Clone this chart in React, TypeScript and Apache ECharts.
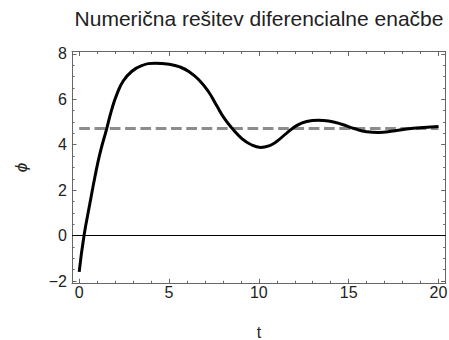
import React, { useEffect, useRef } from 'react';
import * as echarts from 'echarts';

const tValues = [0, 0.27, 0.6, 0.88, 1.16, 1.53, 1.81, 2.09, 2.45, 2.92, 3.48, 4.22, 5.05, 5.6, 6.1, 6.63, 7.19, 7.65, 8.11, 8.58, 9.04, 9.5, 10.1, 10.6, 10.99, 11.55, 12.1, 12.66, 13.3, 13.96, 14.61, 15.3, 16.0, 16.65, 17.48, 18.22, 19.15, 20.0];
const phiValues = [-1.6, 0.0, 1.43, 2.6, 3.63, 4.7, 5.54, 6.2, 6.8, 7.22, 7.48, 7.58, 7.53, 7.42, 7.22, 6.88, 6.34, 5.72, 5.12, 4.66, 4.28, 4.03, 3.88, 3.96, 4.14, 4.51, 4.84, 5.02, 5.08, 5.03, 4.9, 4.71, 4.57, 4.54, 4.6, 4.69, 4.76, 4.8];
const equilibriumT = [0, 20];
const equilibriumPhi = [4.71, 4.71];

const xMajorTicks = [0, 5, 10, 15, 20];
const xMinorTicks = [1, 2, 3, 4, 6, 7, 8, 9, 11, 12, 13, 14, 16, 17, 18, 19];
const yMajorTicks = [-2, 0, 2, 4, 6, 8];
const yMinorTicks = [-1.5, -1, -0.5, 0.5, 1, 1.5, 2.5, 3, 3.5, 4.5, 5, 5.5, 6.5, 7, 7.5];

const titleText = 'Numerična rešitev diferencialne enačbe';
const xName = 't';
const yName = 'ϕ';

const FONT = 'Liberation Sans, Arial, sans-serif';
const FRAME = '#666';
const TEXT = '#222';

const fmt = (v: number) => (v < 0 ? '\u2212' + Math.abs(v) : String(v));

export default function App() {
  const ref = useRef<HTMLDivElement>(null);
  useEffect(() => {
    const chart = echarts.init(ref.current!, null, { renderer: 'svg' });
    const xRange = { min: -0.4, max: 20.4 };
    const yRange = { min: -2.1, max: 8.1 };
    const frameLine = { show: true, onZero: false, lineStyle: { color: FRAME, width: 1 } };
    const noLine = { show: false, onZero: false };
    const noLabel = { show: false };
    const mkX = (position: string, ticks: number[], len: number, main: boolean, labels: boolean) => ({
      type: 'value',
      position,
      ...xRange,
      axisLine: main ? frameLine : noLine,
      axisTick: { show: true, inside: true, length: len, customValues: ticks, lineStyle: { color: FRAME, width: 1 } },
      axisLabel: labels
        ? { show: true, customValues: ticks, formatter: fmt, fontSize: 16, color: TEXT, fontFamily: FONT, margin: 1 }
        : noLabel,
      splitLine: { show: false },
      minorTick: { show: false },
    });
    const mkY = (position: string, ticks: number[], len: number, main: boolean, labels: boolean) => ({
      type: 'value',
      position,
      ...yRange,
      axisLine: main ? frameLine : noLine,
      axisTick: { show: true, inside: true, length: len, customValues: ticks, lineStyle: { color: FRAME, width: 1 } },
      axisLabel: labels
        ? { show: true, customValues: ticks, formatter: fmt, fontSize: 16, color: TEXT, fontFamily: FONT, margin: 5 }
        : noLabel,
      splitLine: { show: false },
      minorTick: { show: false },
    });
    const x0: any = mkX('bottom', xMajorTicks, 4.5, true, true);
    x0.name = xName;
    x0.nameLocation = 'middle';
    x0.nameGap = 41;
    x0.nameTextStyle = { fontSize: 16, color: TEXT, fontFamily: FONT };
    const y0: any = mkY('left', yMajorTicks, 4.5, true, true);
    y0.name = yName;
    y0.nameLocation = 'middle';
    y0.nameRotate = 90;
    y0.nameGap = 42;
    y0.nameTextStyle = { fontSize: 17, color: TEXT, fontFamily: FONT, fontStyle: 'italic' };

    chart.setOption({
      animation: false,
      backgroundColor: '#fff',
      title: {
        text: titleText,
        left: 254,
        top: 3,
        textAlign: 'center',
        textStyle: { fontSize: 21, fontWeight: 'normal', color: TEXT, fontFamily: FONT },
      },
      grid: { left: 72, top: 51.5, width: 373.7, height: 231.8, containLabel: false, outerBoundsMode: 'none' },
      xAxis: [
        x0,
        mkX('bottom', xMinorTicks, 2.5, false, false),
        mkX('top', xMajorTicks, 4.5, true, false),
        mkX('top', xMinorTicks, 2.5, false, false),
      ],
      yAxis: [
        y0,
        mkY('left', yMinorTicks, 2.5, false, false),
        mkY('right', yMajorTicks, 4.5, true, false),
        mkY('right', yMinorTicks, 2.5, false, false),
      ],
      series: [
        {
          type: 'line',
          name: 'ravnovesje',
          data: equilibriumT.map((t, i) => [t, equilibriumPhi[i]]),
          showSymbol: false,
          symbol: 'none',
          lineStyle: { color: '#8c8c8c', width: 3, type: [10.7, 4.6] },
          z: 2,
          silent: true,
        },
        {
          type: 'line',
          name: 'phi',
          data: tValues.map((t, i) => [t, phiValues[i]]),
          showSymbol: false,
          symbol: 'none',
          smooth: 0.5,
          lineStyle: { color: '#000', width: 3 },
          z: 3,
          silent: true,
          markLine: {
            silent: true,
            symbol: ['none', 'none'],
            label: { show: false },
            lineStyle: { color: '#000', width: 1, type: 'solid' },
            data: [{ yAxis: 0 }],
            z: 1,
          },
        },
      ],
    });
    return () => chart.dispose();
  }, []);
  return <div ref={ref} style={{ position: 'fixed', left: 0, top: 0, width: 449, height: 340 }} />;
}
